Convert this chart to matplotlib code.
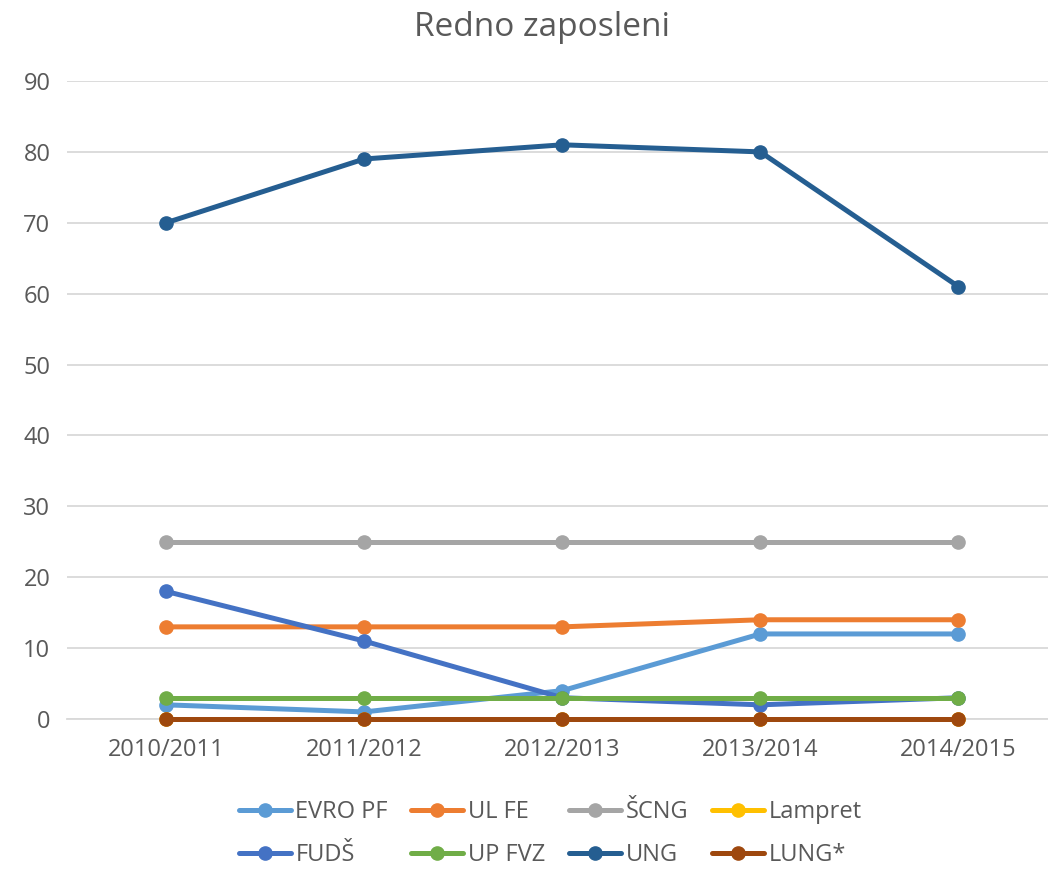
import matplotlib
matplotlib.use("Agg")
import matplotlib.pyplot as plt
import numpy as np

years = ["2010/2011", "2011/2012", "2012/2013", "2013/2014", "2014/2015"]

evro_pf = [2, 1, 4, 12, 12]
ul_fe = [13, 13, 13, 14, 14]
scng = [25, 25, 25, 25, 25]
lampret = [0, 0, 0, 0, 0]
fuds = [18, 11, 3, 2, 3]
up_fvz = [3, 3, 3, 3, 3]
ung = [70, 79, 81, 80, 61]
lung = [0, 0, 0, 0, 0]

series = [
    ("EVRO PF", evro_pf, "#5B9BD5"),
    ("UL FE", ul_fe, "#ED7D31"),
    ("ŠCNG", scng, "#A5A5A5"),
    ("Lampret", lampret, "#FFC000"),
    ("FUDŠ", fuds, "#4472C4"),
    ("UP FVZ", up_fvz, "#70AD47"),
    ("UNG", ung, "#255E91"),
    ("LUNG*", lung, "#9E480E"),
]

text_color = "#595959"
plt.rcParams["font.family"] = ["Open Sans", "DejaVu Sans"]

fig = plt.figure(figsize=(10.48, 8.71), dpi=100)
ax = fig.add_axes([0.064, 0.1745, 0.945, 0.7325])

x = np.arange(len(years))
handles = []
for label, vals, color in series:
    h, = ax.plot(x, vals, color=color, linewidth=3.6, marker="o", markersize=9.5,
                 label=label, solid_capstyle="round", clip_on=False, zorder=3)
    handles.append(h)

ax.set_xlim(-0.5, len(years) - 0.5)
ax.set_ylim(0, 90)
ax.set_yticks(range(0, 91, 10))
ax.set_xticks(x)
ax.set_xticklabels(years)
ax.grid(axis="y", color="#D9D9D9", linewidth=1.3, zorder=0)
ax.set_axisbelow(True)
for spine in ax.spines.values():
    spine.set_visible(False)
ax.spines["bottom"].set_visible(True)
ax.spines["bottom"].set_color("#D9D9D9")
ax.spines["bottom"].set_linewidth(1.3)
ax.tick_params(axis="both", length=0, labelsize=17, colors=text_color)
ax.tick_params(axis="x", pad=14)
ax.tick_params(axis="y", pad=12)

fig.text(0.517, 0.969, "Redno zaposleni", ha="center", va="center",
         fontsize=24, color=text_color)

# legend fills row by row like the original (matplotlib fills by column)
ncol, nrow = 4, 2
order = [r * ncol + c for c in range(ncol) for r in range(nrow)]
fig.legend([handles[i] for i in order], [series[i][0] for i in order],
           loc="center", bbox_to_anchor=(0.525, 0.043), ncol=ncol, frameon=False,
           fontsize=17, labelcolor=text_color, handlelength=2.2,
           handletextpad=0.2, columnspacing=1.0, labelspacing=0.8)

fig.savefig("out.png", dpi=100)
